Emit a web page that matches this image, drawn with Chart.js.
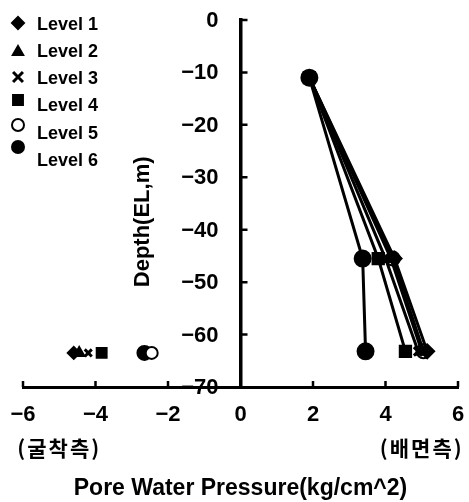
<!DOCTYPE html>
<html>
<head>
<meta charset="utf-8">
<script src="https://cdn.jsdelivr.net/npm/chart.js@4"></script>
<style>
  html, body { margin: 0; padding: 0; background: #fff; }
</style>
</head>
<body>
<canvas id="chart" width="469" height="502"></canvas>
<script>
// Data
const levels = ['Level 1', 'Level 2', 'Level 3', 'Level 4', 'Level 5', 'Level 6'];
const depths = [-11, -45.5, -63.2];            // EL, m
const level1 = [1.9, 4.25, 5.15];              // pore water pressure, back side
const level2 = [1.9, 4.15, 5.0];
const level3 = [1.9, 4.0, 4.9];
const level4 = [1.9, 3.8, 4.55];
const level5 = [1.9, 4.2, 5.05];
const level6 = [1.9, 3.37, 3.45];
const excavDepth = -63.5;                       // excavation side readings
const excavValues = [-4.6, -4.45, -4.2, -3.83, -2.45, -2.65];
const xTicks = [-6, -4, -2, 0, 2, 4, 6];
const yTicks = [0, -10, -20, -30, -40, -50, -60, -70];

const series = [level1, level2, level3, level4, level5, level6];
const styles = ['rectRot', 'triangle', 'crossRot', 'rect', 'circle', 'circle'];
const radii = [7, 7, 6, 8, 7, 8];
const fills = ['#000', '#000', '#000', '#000', '#fff', '#000'];

const minus = v => String(v).replace('-', '\u2212');
const FONT = '"Liberation Sans", Arial, sans-serif';

// Inward tick marks, y labels, legend, side notes and depth label
const extras = {
    id: 'extras',
    afterDraw(chart) {
        const { ctx, scales: { x, y } } = chart;
        const x0 = x.getPixelForValue(0);
        ctx.save();
        ctx.strokeStyle = '#000';
        ctx.fillStyle = '#000';
        ctx.lineWidth = 2.5;
        ctx.beginPath();
        yTicks.slice(0, -1).forEach(v => {
            const py = y.getPixelForValue(v);
            ctx.moveTo(x0, py);
            ctx.lineTo(x0 + 7, py);
        });
        xTicks.filter(v => v !== 0).forEach(v => {
            const px = x.getPixelForValue(v);
            ctx.moveTo(px, y.bottom);
            ctx.lineTo(px, y.bottom - 6);
        });
        ctx.stroke();

        // y tick labels (left of the centred axis)
        ctx.font = 'bold 22px ' + FONT;
        ctx.textAlign = 'right';
        ctx.textBaseline = 'middle';
        y.ticks.forEach(t => {
            ctx.fillText(minus(t.value), x0 - 22, y.getPixelForValue(t.value) + 1);
        });

        // legend
        const rowY = [25, 52, 79, 106, 134, 161];
        const markOff = [-2, 0, -2, -6, -9, -14];
        ctx.font = 'bold 18px ' + FONT;
        ctx.textAlign = 'left';
        levels.forEach((name, i) => {
            ctx.fillStyle = fills[i];
            ctx.strokeStyle = '#000';
            ctx.lineWidth = i === 2 ? 3 : 2;
            Chart.helpers.drawPoint(ctx, {
                pointStyle: styles[i], radius: i === 3 ? 7 : (i === 2 ? 7 : 6), rotation: 0, borderWidth: ctx.lineWidth
            }, 18, rowY[i] + markOff[i]);
            ctx.fillStyle = '#000';
            ctx.fillText(name, 37, rowY[i]);
        });

        // side notes under the x axis
        ctx.font = 'bold 21px "Noto Sans CJK KR", sans-serif';
        ctx.textAlign = 'center';
        ctx.letterSpacing = '2px';
        ctx.fillText('(굴착측)', x.getPixelForValue(-5), y.bottom + 61);
        ctx.fillText('(배면측)', x.getPixelForValue(5), y.bottom + 61);
        ctx.letterSpacing = '0px';

        // depth label
        ctx.font = 'bold 22px ' + FONT;
        ctx.translate(143, y.getPixelForValue(-38.5));
        ctx.rotate(-Math.PI / 2);
        ctx.fillText('Depth(EL,m)', 0, 0);
        ctx.restore();
    }
};

const datasets = series.map((vals, i) => ({
    label: levels[i],
    data: vals.map((v, k) => ({ x: v, y: depths[k] })),
    showLine: true,
    borderColor: '#000',
    borderWidth: 3,
    pointStyle: styles[i],
    pointRadius: radii[i],
    pointBackgroundColor: fills[i],
    pointBorderColor: '#000',
    pointBorderWidth: i === 2 ? 3 : 2
}));
excavValues.forEach((v, i) => {
    datasets.push({
        label: levels[i] + ' (excavation side)',
        data: [{ x: v, y: excavDepth }],
        showLine: false,
        pointStyle: styles[i],
        pointRadius: radii[i] - 1,
        pointBackgroundColor: fills[i],
        pointBorderColor: '#000',
        pointBorderWidth: i === 2 ? 3 : 2
    });
});

const noPadding = s => { s.paddingLeft = 0; s.paddingRight = 0; s.paddingTop = 0; s.paddingBottom = 0; };

new Chart(document.getElementById('chart'), {
    type: 'scatter',
    data: { datasets },
    options: {
        responsive: false,
        animation: false,
        devicePixelRatio: 1,
        clip: false,
        layout: { padding: { left: 23, right: 11, top: 20, bottom: 0 } },
        plugins: { legend: { display: false }, tooltip: { enabled: false } },
        scales: {
            x: {
                type: 'linear',
                min: -6,
                max: 6,
                afterBuildTicks: s => { s.ticks = xTicks.map(v => ({ value: v })); },
                afterFit: noPadding,
                grid: { display: false, drawTicks: false },
                border: { display: true, color: '#000', width: 3 },
                ticks: {
                    color: '#000',
                    padding: 15,
                    maxRotation: 0,
                    font: { family: FONT, size: 22, weight: 'bold' },
                    callback: v => minus(v)
                },
                title: {
                    display: true,
                    text: 'Pore Water Pressure(kg/cm^2)',
                    color: '#000',
                    font: { family: FONT, size: 23, weight: 'bold' },
                    padding: { top: 31, bottom: 0 }
                }
            },
            y: {
                type: 'linear',
                position: { x: 0 },
                min: -70,
                max: 0,
                afterBuildTicks: s => { s.ticks = yTicks.map(v => ({ value: v })); },
                afterFit: noPadding,
                grid: { display: false, drawTicks: false },
                border: { display: true, color: '#000', width: 3.5 },
                ticks: { display: false }
            }
        }
    },
    plugins: [extras]
});
</script>
</body>
</html>
